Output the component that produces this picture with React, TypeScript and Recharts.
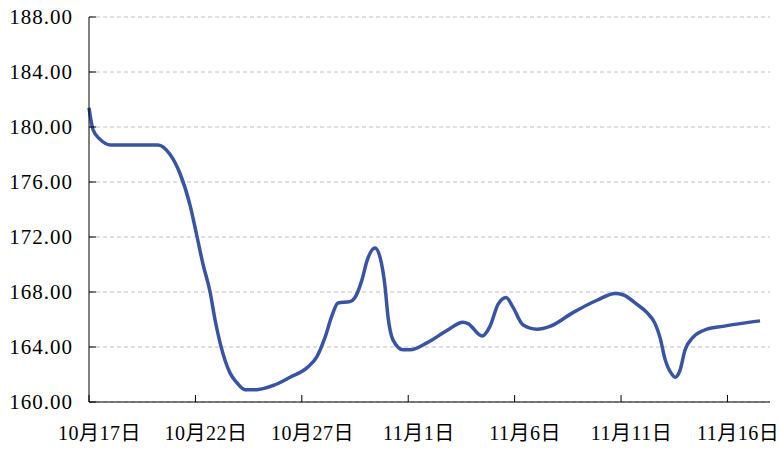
import { LineChart, Line, XAxis, YAxis, CartesianGrid } from 'recharts';

// days counted from 10月17日
const dayOffsets = [
  0, 0.19, 0.52, 1.03, 2.16, 3.24, 3.81, 4.28, 4.75, 5.08, 5.36, 5.69, 5.92, 6.16,
  6.63, 6.95, 7.33, 7.89, 8.65, 9.45, 10.25, 10.71, 11.09, 11.42, 11.7, 12.26,
  12.5, 12.83, 13.07, 13.44, 13.68, 13.91, 14.05, 14.29, 14.76, 15.09, 15.88,
  16.82, 17.58, 17.81, 18.47, 18.84, 19.22, 19.6, 19.92, 20.4, 21.05, 21.66,
  22.74, 23.87, 24.72, 25.09, 25.75, 26.22, 26.6, 26.83, 27.07, 27.4, 27.54,
  27.77, 28.01, 28.38, 29.04, 29.79, 30.59, 31.53,
];

const prices = [
  181.4, 179.8, 179.1, 178.7, 178.7, 178.7, 178.0, 176.6, 174.3, 172.0, 170.0,
  168.0, 166.0, 164.3, 162.1, 161.4, 160.9, 160.9, 161.2, 161.8, 162.5, 163.3,
  164.7, 166.3, 167.2, 167.3, 167.6, 168.9, 170.3, 171.2, 170.5, 168.4, 166.2,
  164.5, 163.8, 163.8, 164.3, 165.2, 165.8, 165.7, 164.8, 165.5, 167.1, 167.6,
  166.9, 165.6, 165.3, 165.5, 166.5, 167.4, 167.9, 167.8, 167.1, 166.5, 165.7,
  164.7, 163.1, 162.0, 161.8, 162.3, 163.8, 164.7, 165.3, 165.5, 165.7, 165.9,
];

const xTicks = [0, 5, 10, 15, 20, 25, 30];
const xLabels = ['10月17日', '10月22日', '10月27日', '11月1日', '11月6日', '11月11日', '11月16日'];
const yTicks = [160, 164, 168, 172, 176, 180, 184, 188];

const data = dayOffsets.map((d, i) => ({ day: d, price: prices[i] }));

const FONT = "'Liberation Serif', 'Noto Sans CJK SC', serif";
const HALF_DAY = 10.6;

const DateTick = ({ x, y, payload }: { x?: number; y?: number; payload?: { value: number } }) => {
  const idx = xTicks.indexOf(payload?.value ?? -1);
  return (
    <text
      x={(x ?? 0) + HALF_DAY}
      y={y}
      dy="0.35em"
      textAnchor="middle"
      fill="#000"
      fontSize={20}
      fontFamily={FONT}
      letterSpacing={0.5}
    >
      {xLabels[idx]}
    </text>
  );
};

export default function App() {
  return (
    <div style={{ position: 'absolute', left: 0, top: 0, background: '#fff' }}>
      <LineChart
        width={781}
        height={449}
        data={data}
        margin={{ top: 17, right: 11, bottom: 0, left: 0 }}
      >
        <CartesianGrid
          horizontal
          vertical={false}
          stroke="#c0c0c0"
          strokeDasharray="4 3"
        />
        <XAxis
          dataKey="day"
          type="number"
          domain={[0, 32]}
          ticks={xTicks}
          height={47}
          axisLine={{ stroke: '#000' }}
          tickLine={{ stroke: '#000' }}
          tickSize={-7}
          tickMargin={38}
          tick={<DateTick />}
          interval={0}
        />
        <YAxis
          type="number"
          domain={[160, 188]}
          ticks={yTicks}
          width={89}
          axisLine={{ stroke: '#000' }}
          tickLine={{ stroke: '#000' }}
          tickSize={-7}
          tickMargin={23}
          tickFormatter={(v: number) => v.toFixed(2)}
          tick={{ fill: '#000', fontSize: 21, fontFamily: FONT, letterSpacing: 1 }}
          interval={0}
        />
        <Line
          type="monotone"
          dataKey="price"
          stroke="#3a54a4"
          strokeWidth={3.5}
          dot={false}
          isAnimationActive={false}
        />
      </LineChart>
    </div>
  );
}
